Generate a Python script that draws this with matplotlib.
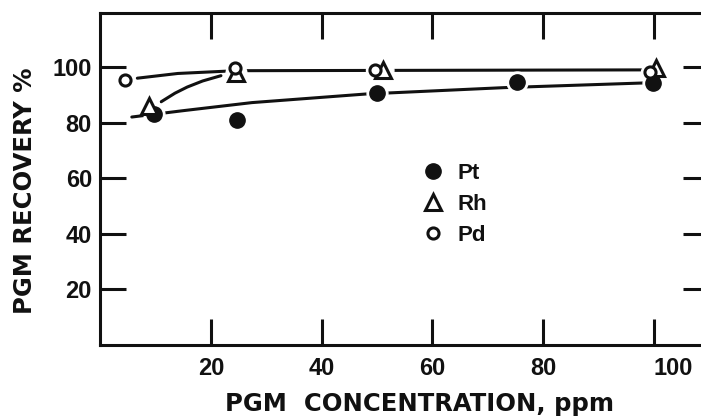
import matplotlib
matplotlib.use("Agg")
import matplotlib.pyplot as plt

# Recovery (%) of each platinum-group metal vs. feed concentration (ppm)
pt_conc = [9.7, 24.7, 50.0, 75.3, 99.8]
pt_recovery = [83.0, 81.0, 90.5, 94.6, 94.2]

rh_conc = [8.8, 24.5, 51.0, 100.4]
rh_recovery = [86.0, 98.0, 99.0, 99.6]

pd_conc = [4.5, 24.3, 49.6, 99.3]
pd_recovery = [95.2, 99.8, 98.9, 98.3]

# Hand-drawn trend curves through the data
upper_curve_x = [6.7, 14.0, 24.5, 50.0, 75.0, 100.0]
upper_curve_y = [96.0, 97.7, 98.7, 98.8, 98.9, 99.0]

rh_curve_x = [11.0, 13.5, 15.7, 18.5, 21.8]
rh_curve_y = [87.5, 90.6, 92.8, 95.0, 96.9]

lower_curve_x = [5.7, 15.0, 27.4, 48.0, 73.0, 100.0]
lower_curve_y = [82.0, 84.3, 87.2, 90.3, 92.6, 94.4]

x_ticks = [20, 40, 60, 80, 100]
x_tick_labels = ["20", "40", "60", "80", "100"]
y_ticks = [20, 40, 60, 80, 100]
y_tick_labels = ["20", "40", "60", "80", "100"]

INK = "#111111"
TICK_FONT = {"family": "Liberation Sans", "weight": "bold", "size": 17}
LABEL_FONT = {"family": "DejaVu Sans", "weight": "bold", "size": 17.5}

fig = plt.figure(figsize=(7.01, 4.16), dpi=100, facecolor="white")
ax = fig.add_axes([100.25 / 701, 71.5 / 416, 609.0 / 701, 331.5 / 416])
ax.set_xlim(0, 110)
ax.set_ylim(0, 119.5)

line_kw = dict(color=INK, lw=2.2, solid_capstyle="round", zorder=2)
ax.plot(upper_curve_x, upper_curve_y, **line_kw)
ax.plot(rh_curve_x, rh_curve_y, **line_kw)
ax.plot(lower_curve_x, lower_curve_y, **line_kw)

# white halos so the curves stop short of each symbol
halo_kw = dict(ls="none", marker="o", color="white", mec="white", zorder=3)
ax.plot(pt_conc, pt_recovery, ms=15, **halo_kw)
ax.plot(rh_conc, rh_recovery, ms=15, **halo_kw)
ax.plot(pd_conc, pd_recovery, ms=13, **halo_kw)

ax.plot(pt_conc, pt_recovery, ls="none", marker="o", ms=11, mfc=INK, mec=INK,
        mew=1, zorder=4, label="Pt")
ax.plot(rh_conc, rh_recovery, ls="none", marker="^", ms=11, mfc="white", mec=INK,
        mew=2.2, zorder=5, label="Rh")
ax.plot(pd_conc, pd_recovery, ls="none", marker="o", ms=8, mfc="white", mec=INK,
        mew=2.2, zorder=6, label="Pd")

leg = ax.legend(loc="upper left", bbox_to_anchor=(0.510, 0.582), frameon=False,
                borderpad=0, handlelength=1.0, handletextpad=0.6, labelspacing=0.46,
                prop={"family": "Liberation Sans", "weight": "bold", "size": 16})
for txt in leg.get_texts():
    txt.set_color(INK)

for side in ["left", "right", "top", "bottom"]:
    ax.spines[side].set_linewidth(2.2)
    ax.spines[side].set_color(INK)

ax.set_xticks(x_ticks)
ax.set_xticklabels(x_tick_labels, fontdict=TICK_FONT)
ax.set_yticks(y_ticks)
ax.set_yticklabels(y_tick_labels, fontdict=TICK_FONT)
ax.tick_params(axis="both", which="major", direction="in", length=19, width=2.2,
               color=INK, labelcolor=INK, top=True, right=True)
ax.tick_params(axis="x", pad=9)
ax.tick_params(axis="y", pad=6)

# the 100 label sits to the right of its tick
last = ax.get_xticklabels()[-1]
last.set_horizontalalignment("left")

ax.set_xlabel("PGM  CONCENTRATION, ppm", fontdict=LABEL_FONT, color=INK)
ax.xaxis.set_label_coords(0.524, -0.143)
ax.set_ylabel("PGM RECOVERY %", fontdict=LABEL_FONT, color=INK)
ax.yaxis.set_label_coords(-0.104, 0.465)

fig.savefig("out.png", dpi=100, facecolor="white")
